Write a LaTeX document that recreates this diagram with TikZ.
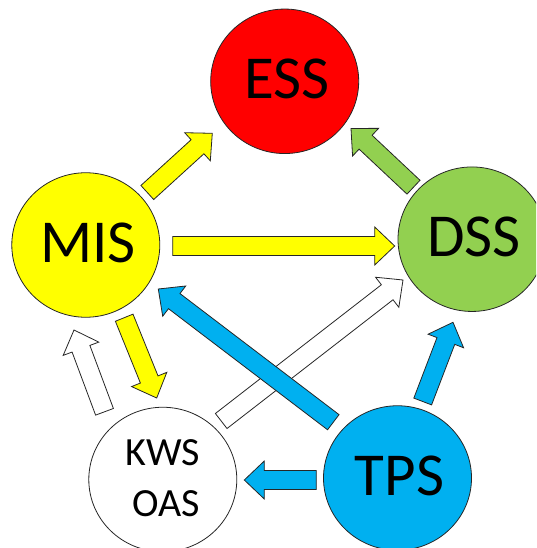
\documentclass[tikz,border=0pt]{standalone}
\usepackage{fontspec}
\setmainfont{Carlito}
\usetikzlibrary{calc,shapes.geometric}

\definecolor{essred}{HTML}{FF0000}
\definecolor{misyellow}{HTML}{FFFF00}
\definecolor{dssgreen}{HTML}{92D050}
\definecolor{tpsblue}{HTML}{00B0F0}
\definecolor{outline}{HTML}{262626}

% block arrow geometry
\newcommand{\shafthalf}{9.5pt}
\newcommand{\headhalf}{19pt}
\newcommand{\headlen}{20pt}
% #1 fill colour, #2 tail coordinate, #3 tip coordinate
\newcommand{\blockarrow}[3]{%
  \coordinate (neck) at ($(#3)!\headlen!(#2)$);
  \draw[arrowbody, fill=#1]
    ($(#2)!\shafthalf!90:(#3)$) -- ($(neck)!\shafthalf!90:(#3)$)
    -- ($(neck)!\headhalf!90:(#3)$) -- (#3)
    -- ($(neck)!\headhalf!-90:(#3)$) -- ($(neck)!\shafthalf!-90:(#3)$)
    -- ($(#2)!\shafthalf!-90:(#3)$) -- cycle;
}
% nudge a label slightly right and up inside its circle
\newcommand{\syslabel}[1]{\raisebox{2pt}[\height][\depth]{\kern4pt #1}}

\tikzset{
  sys/.style={ellipse, draw=outline, line width=0.8pt,
    minimum width=148pt, minimum height=144.5pt, inner sep=0pt},
  biglabel/.style={font=\fontsize{61}{61}\selectfont},
  smalllabel/.style={font=\fontsize{40}{49}\selectfont, align=right},
  arrowbody/.style={draw=outline, line width=0.8pt, line join=miter},
}

\begin{document}
\begin{tikzpicture}[x=1pt, y=-1pt]
  \useasboundingbox (0,0) rectangle (536,548);
  \clip (0,0) rectangle (536,548);

  % the five systems
  \node[sys, fill=essred, biglabel]    (ess) at (284.7,81.3)  {\syslabel{ESS}};
  \node[sys, fill=misyellow, biglabel] (mis) at (85.8,245)    {\syslabel{MIS}};
  \node[sys, fill=dssgreen, biglabel]  (dss) at (472,239.2)   {\syslabel{DSS}};
  \node[sys, fill=white, smalllabel]   (kws) at (162.8,479.5) {\raisebox{2pt}[\height][\depth]{KWS}\\OAS};
  \node[sys, fill=tpsblue, biglabel]   (tps) at (397.5,478)   {\syslabel{TPS}};

  % arrow ends: tail (T) and tip (H) of each flow
  \coordinate (misEssT) at (147.3,192.5); \coordinate (misEssH) at (212.3,133.3);
  \coordinate (dssEssT) at (413.5,187.2); \coordinate (dssEssH) at (351,128.5);
  \coordinate (misDssT) at (172.7,246);   \coordinate (misDssH) at (394.7,246);
  \coordinate (tpsMisT) at (333.3,422.2); \coordinate (tpsMisH) at (158.3,289);
  \coordinate (kwsDssT) at (221.2,421);   \coordinate (kwsDssH) at (403,280);
  \coordinate (tpsDssT) at (422.7,401.5); \coordinate (tpsDssH) at (453,322.3);
  \coordinate (tpsKwsT) at (316.3,480);   \coordinate (tpsKwsH) at (244.3,480);
  \coordinate (kwsMisT) at (104.5,411.8); \coordinate (kwsMisH) at (74,330);
  \coordinate (misKwsT) at (124.2,317.7); \coordinate (misKwsH) at (156.7,398);

  % information flows
  \blockarrow{misyellow}{misEssT}{misEssH}
  \blockarrow{dssgreen}{dssEssT}{dssEssH}
  \blockarrow{misyellow}{misDssT}{misDssH}
  \blockarrow{white}{kwsDssT}{kwsDssH}
  \blockarrow{tpsblue}{tpsMisT}{tpsMisH}
  \blockarrow{tpsblue}{tpsDssT}{tpsDssH}
  \blockarrow{tpsblue}{tpsKwsT}{tpsKwsH}
  \blockarrow{white}{kwsMisT}{kwsMisH}
  \blockarrow{misyellow}{misKwsT}{misKwsH}
\end{tikzpicture}
\end{document}
